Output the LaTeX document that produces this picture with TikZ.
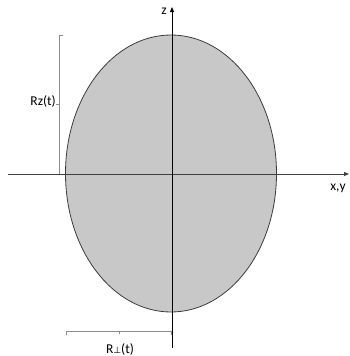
\documentclass[tikz,border=0pt]{standalone}
\usepackage{fontspec}
\setmainfont{Carlito}
\newfontfamily\dvfont{DejaVu Sans}
\usetikzlibrary{arrows.meta,shapes.geometric}
\definecolor{fillgray}{RGB}{200,200,200}
\definecolor{edgegray}{RGB}{60,60,60}
\definecolor{brgray}{RGB}{140,140,140}
\begin{document}
\begin{tikzpicture}[x=1pt,y=-1pt,
  axis/.style={line width=0.9pt,-{Triangle[length=5pt,width=4pt]}},
  brace/.style={draw=brgray,line width=0.6pt},
  lbl/.style={font=\fontsize{13.5}{15}\selectfont,inner sep=0pt}]
\useasboundingbox (0,0) rectangle (350,356);
\node[ellipse,draw=edgegray,fill=fillgray,line width=0.8pt,minimum width=211pt,minimum height=277pt,inner sep=0pt] (ell) at (171,173.5) {};
\coordinate (xs) at (8,174);
\coordinate (xe) at (349,174);
\coordinate (zs) at (172,348);
\coordinate (ze) at (172,7);
\draw[axis,draw=black!75,fill=black!75] (xs) -- (xe);
\draw[axis] (zs) -- (ze);
\node[lbl] (zl) at (164,11) {z};
\node[lbl] (xyl) at (338,188) {x,y};
% vertical bracket
\coordinate (vt) at (59,35);
\coordinate (vb) at (59,174);
\draw[brace] ([xshift=4pt]vt) -- (vt) -- (vb);
\draw[brace] (59,104) -- (56,104);
\node[lbl,anchor=east] (rz) at (56,101) {Rz(t)};
% horizontal bracket
\coordinate (hl) at (66,331);
\coordinate (hr) at (171,331);
\draw[brace] ([yshift=-4pt]hl) -- (hl) -- (hr) -- ([yshift=-4pt]hr);
\draw[brace] (119,331) -- (119,334);
\node[lbl] (rp) at (120,349) {R{\dvfont\fontsize{9}{10}\selectfont ⊥}(t)};
\end{tikzpicture}
\end{document}
